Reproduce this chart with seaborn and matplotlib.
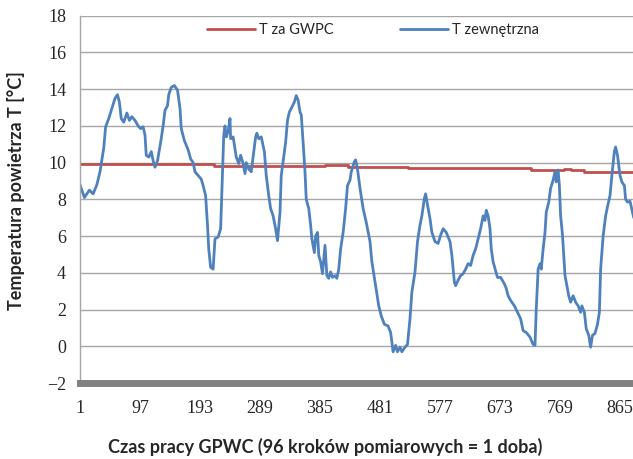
import matplotlib
matplotlib.use("Agg")
import matplotlib.pyplot as plt
import seaborn as sns
import pandas as pd

# outdoor temperature (blue)
blue_x = [1, 8, 16, 22, 28, 33, 39, 42, 47, 52, 57, 61, 64, 67, 71, 76, 80, 84, 89, 94,
          98, 102, 105, 107, 111, 115, 118, 121, 125, 130, 134, 137, 141, 143, 147, 152,
          157, 161, 163, 168, 174, 178, 182, 185, 190, 195, 198, 202, 205, 207, 210, 214,
          217, 222, 226, 228, 231, 233, 235, 238, 241, 242, 246, 249, 251, 255, 258, 262,
          265, 267, 271, 275, 279, 282, 284, 287, 291, 296, 299, 303, 306, 310, 314, 317,
          321, 323, 328, 330, 333, 336, 339, 344, 347, 350, 353, 355, 358, 361, 363, 367,
          370, 372, 376, 378, 381, 383, 386, 389, 393, 396, 399, 402, 405, 409, 412, 415,
          418, 422, 426, 429, 433, 435, 440, 442, 445, 449, 454, 459, 465, 468, 474, 479,
          483, 488, 494, 498, 502, 506, 509, 513, 516, 521, 525, 529, 532, 537, 541, 545,
          548, 552, 554, 557, 561, 564, 569, 574, 578, 582, 587, 593, 596, 600, 602, 606,
          610, 614, 618, 622, 626, 630, 634, 638, 642, 646, 649, 651, 654, 657, 659, 662,
          666, 669, 674, 680, 683, 686, 690, 696, 701, 706, 710, 715, 721, 726, 729, 731,
          734, 737, 739, 742, 745, 747, 751, 754, 758, 761, 763, 766, 768, 770, 773, 777,
          780, 783, 786, 790, 794, 798, 802, 804, 808, 811, 815, 818, 821, 825, 829, 832,
          834, 838, 842, 845, 849, 852, 856, 858, 861, 865, 868, 872, 874, 877, 881, 885, 887]
blue_y = [8.8, 8.1, 8.5, 8.3, 8.8, 9.5, 10.8, 11.95, 12.4, 12.95, 13.5, 13.7, 13.3, 12.4,
          12.2, 12.7, 12.3, 12.5, 12.3, 12.0, 11.85, 11.95, 11.5, 10.4, 10.3, 10.6, 10.1,
          9.75, 10.1, 11.1, 12.0, 12.85, 13.1, 13.7, 14.1, 14.2, 13.95, 12.95, 11.85, 11.2,
          10.7, 10.2, 10.0, 9.5, 9.3, 9.1, 8.75, 8.2, 6.6, 5.3, 4.3, 4.2, 5.85, 5.95, 6.4,
          8.4, 11.5, 12.0, 11.4, 11.7, 12.4, 11.3, 11.4, 10.75, 10.3, 9.95, 10.4, 9.95, 9.4,
          10.0, 9.65, 9.5, 10.6, 11.4, 11.6, 11.3, 11.4, 10.6, 9.3, 8.2, 7.5, 7.1, 6.4, 5.75,
          7.3, 9.3, 10.6, 11.1, 12.3, 12.75, 12.95, 13.3, 13.65, 13.4, 12.75, 12.6, 11.1,
          9.5, 8.0, 7.5, 6.6, 5.85, 5.1, 6.0, 6.2, 4.95, 4.6, 3.95, 5.5, 3.85, 3.7, 4.05,
          3.75, 3.85, 3.7, 4.2, 5.3, 6.2, 7.5, 8.75, 9.05, 9.5, 10.05, 10.15, 9.65, 8.6, 7.5,
          6.75, 5.7, 4.6, 3.3, 2.2, 1.65, 1.2, 1.1, 0.75, -0.3, 0.05, -0.3, -0.05, -0.3,
          -0.05, 0.1, 1.5, 2.95, 4.05, 5.7, 6.6, 7.1, 8.05, 8.3, 7.7, 6.95, 6.2, 5.7, 5.6,
          6.05, 6.4, 6.2, 5.7, 4.95, 3.5, 3.3, 3.6, 3.85, 3.95, 4.2, 4.5, 4.4, 4.95, 5.3,
          5.85, 6.4, 7.1, 6.85, 7.4, 7.1, 6.4, 5.3, 4.6, 4.1, 3.75, 3.75, 3.4, 3.15, 2.75,
          2.5, 2.2, 1.85, 1.5, 0.85, 0.75, 0.5, 0.1, 0.05, 2.0, 4.2, 4.5, 4.2, 5.3, 6.2, 7.3,
          7.85, 8.6, 9.05, 9.5, 8.95, 9.6, 8.75, 7.1, 6.05, 3.85, 3.3, 2.75, 2.4, 2.75, 2.4,
          2.2, 1.85, 2.2, 1.85, 0.95, 0.6, -0.05, 0.6, 0.7, 1.2, 1.85, 4.2, 6.0, 7.1, 7.6,
          8.2, 9.3, 10.6, 10.85, 10.4, 9.3, 8.95, 8.75, 8.0, 7.85, 7.9, 7.3, 7.0]

# temperature after the ground heat exchanger (red), step changes
red_x = [1, 215, 393, 430, 526, 722, 776, 787, 808, 887]
red_y = [9.9, 9.82, 9.85, 9.78, 9.7, 9.6, 9.63, 9.6, 9.5, 9.5]

x_ticks = [1, 97, 193, 289, 385, 481, 577, 673, 769, 865]
y_ticks = list(range(-2, 19, 2))

blue_df = pd.DataFrame({"krok": blue_x, "T": blue_y})
red_df = pd.DataFrame({"krok": red_x, "T": red_y})

sns.set_style("white")
plt.rcParams["font.family"] = ["Lato", "DejaVu Sans"]

fig = plt.figure(figsize=(6.33, 4.59), dpi=100)
ax = fig.add_axes([80 / 633, 1 - 383 / 459, 1 - 80 / 633, (383 - 15.7) / 459])

sns.lineplot(data=red_df, x="krok", y="T", ax=ax, color="#C0504D", linewidth=2.0,
             drawstyle="steps-post", label="T za GWPC")
sns.lineplot(data=blue_df, x="krok", y="T", ax=ax, color="#4F81BD", linewidth=2.0,
             label="T zewnętrzna")

ax.set_xlim(1, 885.8)
ax.set_ylim(-2, 18)
ax.set_xticks(x_ticks)
ax.set_yticks(y_ticks)
ax.tick_params(axis="y", length=0, pad=10)
ax.tick_params(axis="x", length=0, pad=12)
for lab in ax.get_xticklabels() + ax.get_yticklabels():
    lab.set_family("Liberation Serif")
    lab.set_fontsize(13)

ax.grid(axis="y", color="#a6a6a6", linewidth=1.0)
ax.set_axisbelow(True)
for side in ["top", "right"]:
    ax.spines[side].set_visible(False)
ax.spines["left"].set_color("#a6a6a6")
ax.spines["left"].set_linewidth(1.0)
ax.spines["bottom"].set_color("#808080")
ax.spines["bottom"].set_linewidth(5)

ax.set_xlabel("Czas pracy GPWC (96 kroków pomiarowych = 1 doba)", fontsize=13,
              fontweight="bold")
ax.set_ylabel("Temperatura powietrza T [°C]", fontsize=13, fontweight="bold")
ax.xaxis.set_label_coords(0.443, -0.15)
ax.yaxis.set_label_coords(-0.1, 0.525)

ax.legend(loc="center", bbox_to_anchor=(0.53, 0.961), ncol=2, frameon=False,
          fontsize=10.5, handlelength=3.3, columnspacing=4.5, handletextpad=0.3)

fig.savefig("out.png", dpi=100)
